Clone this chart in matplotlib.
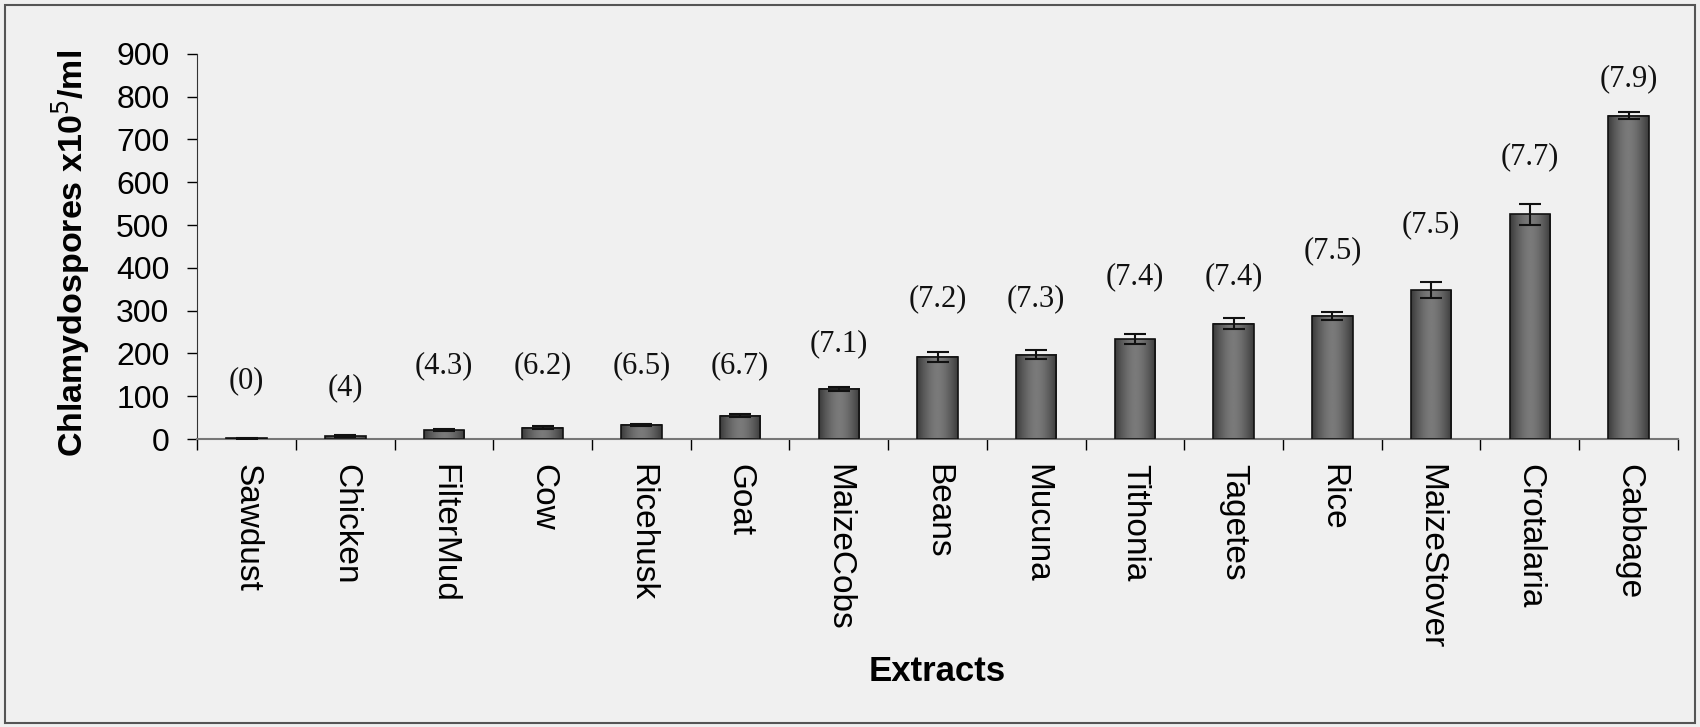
import matplotlib.pyplot as plt
import numpy as np
from matplotlib.patches import Rectangle

# data
extracts = ['Sawdust', 'Chicken', 'FilterMud', 'Cow', 'Ricehusk', 'Goat',
            'MaizeCobs', 'Beans', 'Mucuna', 'Tithonia', 'Tagetes', 'Rice',
            'MaizeStover', 'Crotalaria', 'Cabbage']
spores = [1.5, 7, 21, 27, 33, 55, 117, 192, 197, 233, 270, 288, 348, 525, 755]
errors = [1, 2, 3, 3, 3, 3, 5, 11, 11, 12, 12, 10, 18, 24, 8]
ph_labels = ['(0)', '(4)', '(4.3)', '(6.2)', '(6.5)', '(6.7)', '(7.1)', '(7.2)',
             '(7.3)', '(7.4)', '(7.4)', '(7.5)', '(7.5)', '(7.7)', '(7.9)']
label_y = [137, 121, 172, 172, 172, 172, 223, 328, 328, 379, 379, 441, 500, 660, 842]

sans = ['Liberation Sans', 'DejaVu Sans']
serif = ['Liberation Serif', 'DejaVu Serif']

fig = plt.figure(figsize=(17, 7.27), dpi=100, facecolor='#f0f0f0')
ax = fig.add_axes([0.116, 0.396, 0.871, 0.53])
ax.set_facecolor('none')

# scan frame
fig.patches.append(Rectangle((0.003, 0.006), 0.994, 0.987, transform=fig.transFigure,
                             fill=False, edgecolor='#555555', linewidth=1.5))

x = np.arange(len(extracts))
bars = ax.bar(x, spores, width=0.41, color='none', edgecolor='#111111', linewidth=1.2,
              yerr=errors, error_kw=dict(ecolor='#111111', elinewidth=1.5, capsize=8,
                                         capthick=1.5, zorder=4))

# cylinder-like shading inside each bar
shade = np.abs(np.linspace(-1, 1, 64)) ** 1.6
shade = 0.48 - 0.25 * shade
for b in bars:
    bx, bw, bh = b.get_x(), b.get_width(), b.get_height()
    ax.imshow(shade[np.newaxis, :], cmap='gray', vmin=0, vmax=1, aspect='auto',
              extent=(bx, bx + bw, 0, bh), zorder=2, interpolation='bilinear')
    b.set_zorder(3)

for xi, lab, ly in zip(x, ph_labels, label_y):
    ax.text(xi, ly, lab, ha='center', va='center', fontsize=22, family=serif, color='#111111')

ax.set_xlim(-0.5, len(extracts) - 0.5)
ax.set_ylim(0, 900)
ax.set_yticks(np.arange(0, 901, 100))
ax.tick_params(axis='y', labelsize=23, length=7, width=1, direction='out', pad=13)
for t in ax.get_yticklabels():
    t.set_family(sans)

ax.set_xticks(x)
ax.set_xticklabels(extracts, rotation=270, fontsize=24, family=sans, va='top', ha='center')
ax.tick_params(axis='x', which='major', length=0, pad=18)
ax.set_xticks(np.arange(-0.5, len(extracts), 1), minor=True)
ax.tick_params(axis='x', which='minor', length=8, width=1, direction='out')

for s in ['top', 'right']:
    ax.spines[s].set_visible(False)
ax.spines['left'].set_color('#333333')
ax.spines['bottom'].set_color('#777777')
ax.spines['bottom'].set_linewidth(1.5)

ax.set_ylabel('Chlamydospores x10$^5$/ml', fontsize=24.5, fontweight='bold', family=sans)
ax.yaxis.set_label_coords(-0.071, 0.483)
fig.text(0.551, 0.076, 'Extracts', ha='center', va='center', fontsize=25,
         fontweight='bold', family=sans)

fig.savefig('out.png', dpi=100, facecolor=fig.get_facecolor())
